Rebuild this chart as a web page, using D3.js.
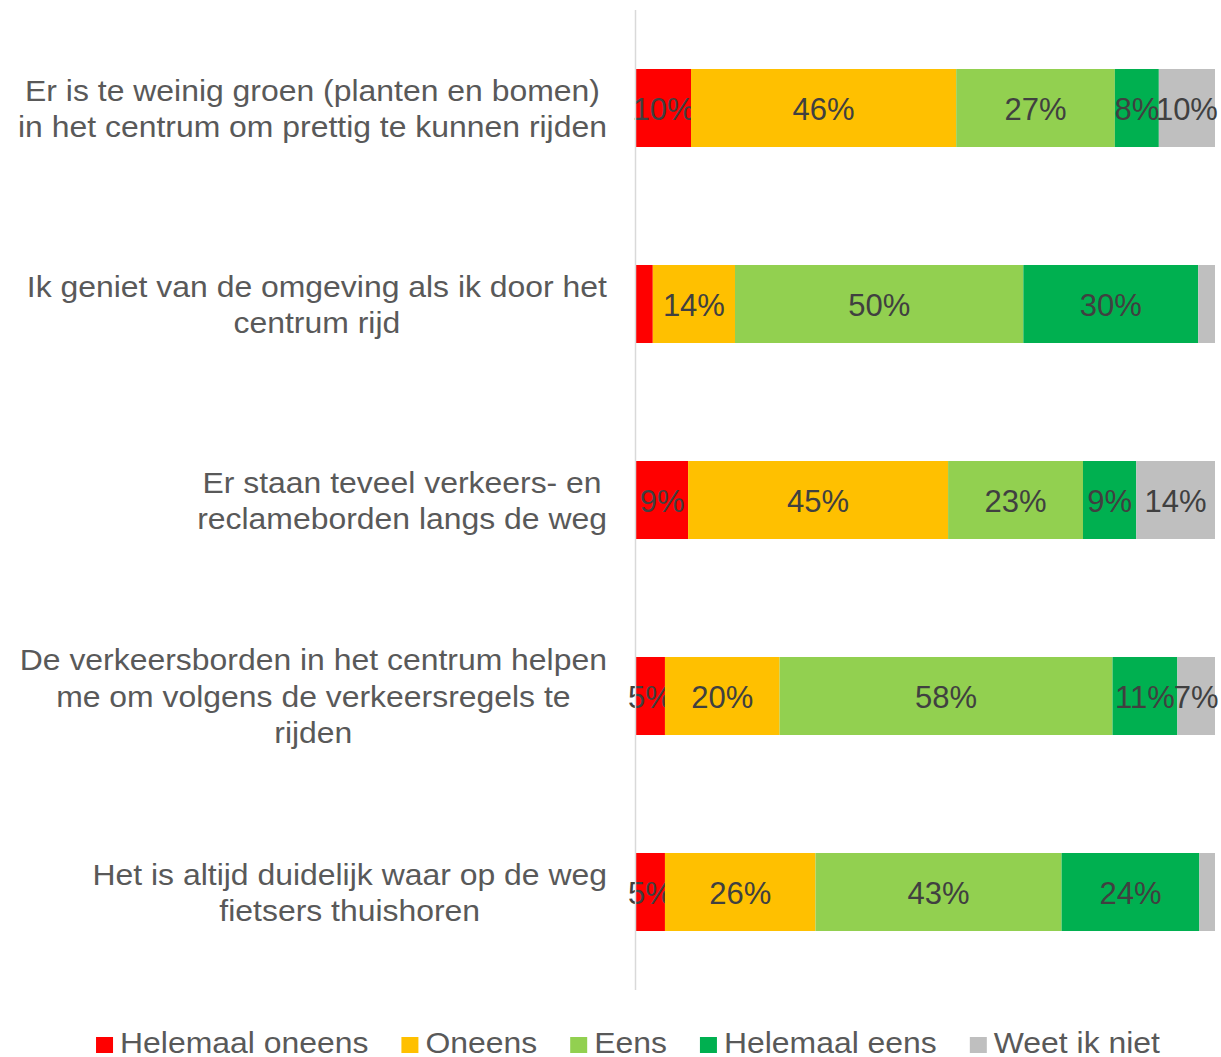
<!DOCTYPE html>
<html>
<head>
<meta charset="utf-8">
<script src="https://cdn.jsdelivr.net/npm/d3@7"></script>
<style>
  body { margin: 0; background: #fff; }
  text { font-family: "Liberation Sans", Arial, sans-serif; }
</style>
</head>
<body>
<div id="chart"></div>
<script>
// statements, one per bar (line breaks as in the picture)
var statements = [
	["Er is te weinig groen (planten en bomen)", "in het centrum om prettig te kunnen rijden"],
	["Ik geniet van de omgeving als ik door het", "centrum rijd"],
	["Er staan teveel verkeers- en", "reclameborden langs de weg"],
	["De verkeersborden in het centrum helpen", "me om volgens de verkeersregels te", "rijden"],
	["Het is altijd duidelijk waar op de weg", "fietsers thuishoren"]
];

var answers = ["Helemaal oneens", "Oneens", "Eens", "Helemaal eens", "Weet ik niet"];
var colors = ["#ff0000", "#ffc000", "#92d050", "#00b050", "#bfbfbf"];

// percentages per statement, in order of answers
var helemaalOneens = [9.5, 2.9, 9.0, 5.0, 5.0];
var oneens = [45.8, 14.2, 44.9, 19.8, 26.0];
var eens = [27.4, 49.8, 23.3, 57.5, 42.5];
var helemaalEens = [7.6, 30.2, 9.2, 11.2, 23.8];
var weetNiet = [9.7, 2.9, 13.6, 6.5, 2.7];

var series = [helemaalOneens, oneens, eens, helemaalEens, weetNiet];

function drawChart() {
	var width = 1221, height = 1057;
	var plotLeft = 636, plotRight = 1215, plotTop = 10, plotBottom = 990;
	var stretch = 1.064; // the source text is a bit wider than Arial

	var svg = d3.select("#chart").append("svg")
		.attr("width", width)
		.attr("height", height);

	var rows = statements.map(function (s, i) {
		var r = { idx: i };
		answers.forEach(function (a, j) { r[a] = series[j][i]; });
		return r;
	});

	var stack = d3.stack().keys(answers)(rows);

	var x = d3.scaleLinear().domain([0, 100]).range([plotLeft, plotRight]);
	var y = d3.scaleBand().domain(d3.range(statements.length))
		.range([plotTop, plotBottom]).paddingInner(0.602).paddingOuter(0.301);

	// bars
	var layers = svg.append("g").selectAll("g")
		.data(stack)
		.enter().append("g")
		.attr("fill", function (d, i) { return colors[i]; });

	layers.selectAll("rect")
		.data(function (d) { return d; })
		.enter().append("rect")
		.attr("x", function (d) { return x(d[0]); })
		.attr("width", function (d) { return x(d[1]) - x(d[0]); })
		.attr("y", function (d) { return y(d.data.idx); })
		.attr("height", y.bandwidth());

	// data labels (small slices get none)
	layers.selectAll("text")
		.data(function (d) { return d.filter(function (p) { return p[1] - p[0] >= 4; }); })
		.enter().append("text")
		.attr("x", function (d) { return (x(d[0]) + x(d[1])) / 2; })
		.attr("y", function (d) { return y(d.data.idx) + y.bandwidth() / 2 + 12; })
		.attr("text-anchor", "middle")
		.attr("fill", "#404040")
		.style("font-size", "31px")
		.text(function (d) { return Math.round(d[1] - d[0]) + "%"; });

	// vertical axis line
	svg.append("line")
		.attr("x1", plotLeft - 0.5).attr("x2", plotLeft - 0.5)
		.attr("y1", plotTop).attr("y2", plotBottom)
		.attr("stroke", "#d9d9d9")
		.attr("stroke-width", 1.5);

	// category labels: lines centred, block right aligned
	var lineH = 36.5;
	statements.forEach(function (lines, i) {
		var cy = y(i) + y.bandwidth() / 2;
		var g = svg.append("g");
		var t = g.append("text")
			.attr("fill", "#595959")
			.attr("text-anchor", "middle")
			.style("font-size", "30px");
		var spans = lines.map(function (l, k) {
			return t.append("tspan")
				.attr("x", 0)
				.attr("y", cy + (k - (lines.length - 1) / 2) * lineH + 11)
				.text(l);
		});
		var maxW = d3.max(spans, function (s) { return s.node().getComputedTextLength(); }) * stretch;
		var cx = 607 - maxW / 2;
		g.attr("transform", "translate(" + cx + ",0) scale(" + stretch + ",1)");
	});

	// legend
	var legend = svg.append("g");
	var lx = 0;
	answers.forEach(function (a, i) {
		legend.append("rect")
			.attr("x", lx).attr("y", 1037)
			.attr("width", 17).attr("height", 16)
			.attr("fill", colors[i]);
		var t = legend.append("text")
			.attr("transform", "translate(" + (lx + 24) + ",1053) scale(" + stretch + ",1)")
			.attr("fill", "#595959")
			.style("font-size", "30px")
			.text(a);
		lx += 24 + t.node().getComputedTextLength() * stretch + 33;
	});
	var totalW = lx - 33;
	legend.attr("transform", "translate(" + (628 - totalW / 2) + ",0)");
}

drawChart();
</script>
</body>
</html>
